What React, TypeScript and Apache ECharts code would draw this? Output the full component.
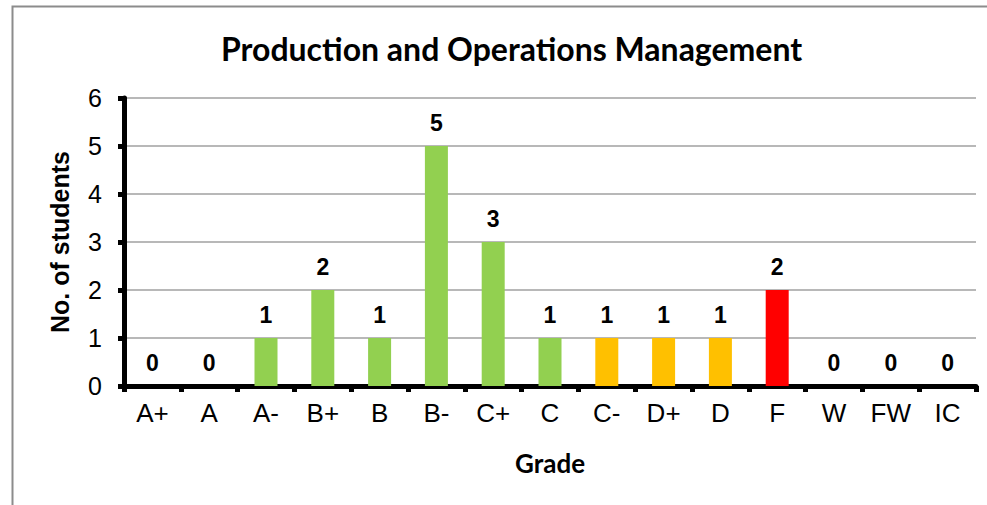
import React, { useEffect, useRef } from "react";
import * as echarts from "echarts";

const categories = ["A+", "A", "A-", "B+", "B", "B-", "C+", "C", "C-", "D+", "D", "F", "W", "FW", "IC"];
const counts = [0, 0, 1, 2, 1, 5, 3, 1, 1, 1, 1, 2, 0, 0, 0];
const barColors = ["#92D050", "#92D050", "#92D050", "#92D050", "#92D050", "#92D050", "#92D050", "#92D050", "#FFC000", "#FFC000", "#FFC000", "#FF0000", "#92D050", "#92D050", "#92D050"];
const yTicks = [0, 1, 2, 3, 4, 5, 6];

export default function App() {
  const ref = useRef<HTMLDivElement>(null);
  useEffect(() => {
    document.body.style.margin = "0";
    const chart = echarts.init(ref.current!, null, { renderer: "svg" });
    chart.setOption({
      animation: false,
      backgroundColor: "#ffffff",
      title: {
        text: "Production and Operations Management",
        left: 216,
        top: 27,
        textStyle: { fontFamily: "Lato", fontWeight: "bold", fontSize: 32, color: "#000" },
      },
      graphic: [
        {
          type: "rect",
          shape: { x: 12.5, y: 6.5, width: 1000, height: 600 },
          style: { fill: "none", stroke: "#8c8c8c", lineWidth: 2 },
          silent: true,
          z: 100,
        },
      ],
      grid: { left: 124, right: 11, top: 98, bottom: 119, containLabel: false },
      xAxis: {
        type: "category",
        data: categories,
        name: "Grade",
        nameLocation: "middle",
        nameGap: 64,
        nameTextStyle: { fontFamily: "Lato", fontWeight: "bold", fontSize: 26, color: "#000" },
        axisLine: { lineStyle: { color: "#000", width: 5 } },
        axisTick: { show: true, alignWithLabel: false, length: 6, lineStyle: { color: "#000", width: 5 } },
        axisLabel: { fontFamily: "Liberation Sans", fontSize: 26, color: "#000", margin: 14, interval: 0 },
      },
      yAxis: {
        type: "value",
        min: 0,
        max: yTicks[yTicks.length - 1],
        interval: 1,
        name: "No. of students",
        nameLocation: "middle",
        nameGap: 52,
        nameRotate: 90,
        nameTextStyle: { fontFamily: "Liberation Sans", fontWeight: "bold", fontSize: 25, color: "#000" },
        axisLine: { show: true, lineStyle: { color: "#000", width: 5 } },
        axisTick: { show: true, length: 6, lineStyle: { color: "#000", width: 5 } },
        axisLabel: { fontFamily: "Liberation Sans", fontSize: 25, color: "#000", margin: 22 },
        splitLine: { show: true, lineStyle: { color: "#a0a0a0", width: 1.5 } },
      },
      series: [
        {
          type: "bar",
          barWidth: 23,
          data: counts.map((v, i) => ({ value: v, itemStyle: { color: barColors[i] } })),
          label: {
            show: true,
            position: "top",
            distance: 12,
            fontFamily: "Liberation Sans",
            fontWeight: "bold",
            fontSize: 23,
            color: "#000",
          },
        },
      ],
    });
    return () => chart.dispose();
  }, []);
  return <div ref={ref} style={{ width: 987, height: 505 }} />;
}
